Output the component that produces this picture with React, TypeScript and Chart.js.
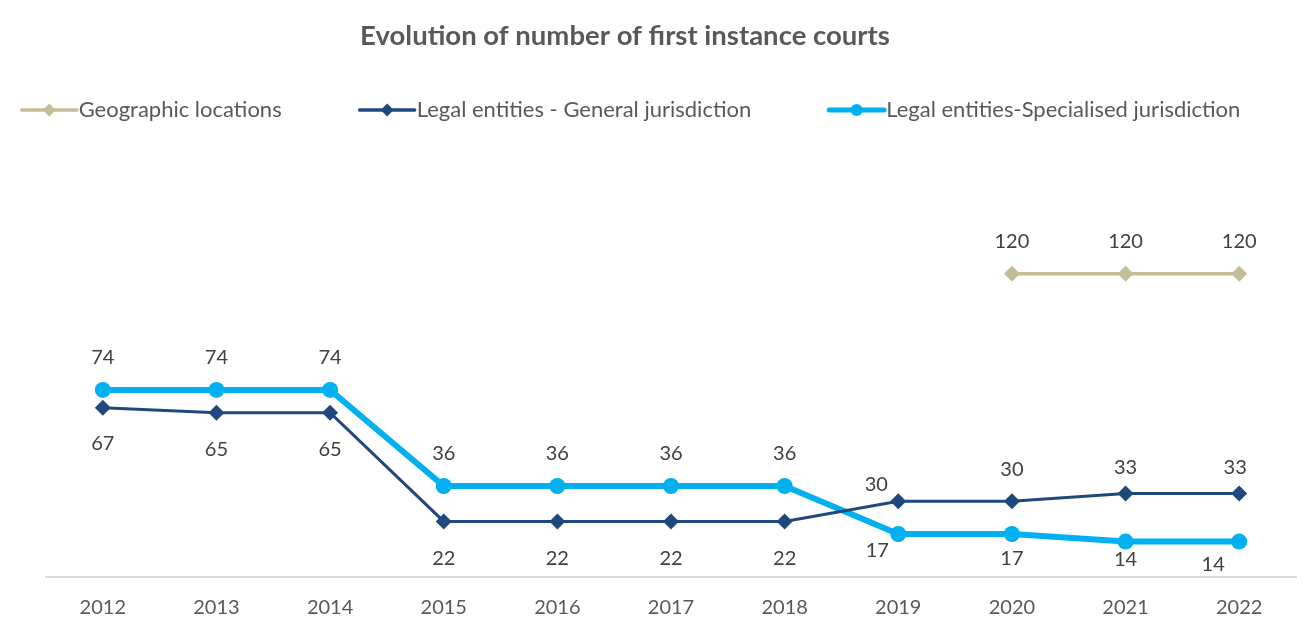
import React, { useEffect, useRef } from "react";
import { Chart, registerables } from "chart.js";

Chart.register(...registerables);

// ---- data ----
const years = ["2012", "2013", "2014", "2015", "2016", "2017", "2018", "2019", "2020", "2021", "2022"];
const geographicLocations = [null, null, null, null, null, null, null, null, 120, 120, 120];
const generalJurisdiction = [67, 65, 65, 22, 22, 22, 22, 30, 30, 33, 33];
const specialisedJurisdiction = [74, 74, 74, 36, 36, 36, 36, 17, 17, 14, 14];
const seriesNames = [
  "Geographic locations",
  "Legal entities - General jurisdiction",
  "Legal entities-Specialised jurisdiction",
];
const titleText = "Evolution of number of first instance courts";

// ---- styles ----
const FONT = "Lato, 'Open Sans', sans-serif";
const TEXT_COLOR = "#595959";
const LABEL_COLOR = "#404040";
const colors = ["#C4BD97", "#1F497D", "#00B0F0"];
const lineWidths = [3.5, 3, 6];
const markerStyles = ["rectRot", "rectRot", "circle"];
const markerRadii = [8, 8, 8];

// value-label offsets (dx, dy) per point, per series
const geoLabelDx = [0, 0, 0, 0, 0, 0, 0, 0, 0, 0, 0];
const geoLabelDy = [-32, -32, -32, -32, -32, -32, -32, -32, -32, -32, -32];
const genLabelDx = [0, 0, 0, 0, 0, 0, 0, -22, 0, 0, -4];
const genLabelDy = [36, 37, 37, 37, 37, 37, 37, -17, -32, -26, -26];
const specLabelDx = [0, 0, 0, 0, 0, 0, 0, -21, 0, 0, -26];
const specLabelDy = [-32, -32, -32, -32, -32, -32, -32, 17, 25, 18, 23];
const labelDx = [geoLabelDx, genLabelDx, specLabelDx];
const labelDy = [geoLabelDy, genLabelDy, specLabelDy];

const valueLabelPlugin = {
  id: "valueLabels",
  afterDatasetsDraw(chart: any) {
    const ctx = chart.ctx;
    ctx.save();
    ctx.font = `20px ${FONT}`;
    ctx.fillStyle = LABEL_COLOR;
    ctx.textAlign = "center";
    ctx.textBaseline = "middle";
    chart.data.datasets.forEach((ds: any, i: number) => {
      const meta = chart.getDatasetMeta(i);
      meta.data.forEach((pt: any, j: number) => {
        const v = ds.data[j];
        if (v === null || v === undefined) return;
        ctx.fillText(String(v), pt.x + labelDx[i][j], pt.y + labelDy[i][j]);
      });
    });
    ctx.restore();
  },
};

function drawMarker(ctx: CanvasRenderingContext2D, style: string, x: number, y: number, r: number, color: string) {
  ctx.fillStyle = color;
  ctx.beginPath();
  if (style === "circle") {
    ctx.arc(x, y, r, 0, Math.PI * 2);
  } else {
    ctx.moveTo(x - r, y);
    ctx.lineTo(x, y - r);
    ctx.lineTo(x + r, y);
    ctx.lineTo(x, y + r);
    ctx.closePath();
  }
  ctx.fill();
}

const headerPlugin = {
  id: "header",
  afterDraw(chart: any) {
    const ctx: CanvasRenderingContext2D = chart.ctx;
    ctx.save();
    // title
    ctx.font = `bold 27.5px ${FONT}`;
    ctx.fillStyle = TEXT_COLOR;
    ctx.textAlign = "center";
    ctx.textBaseline = "middle";
    ctx.fillText(titleText, 625, 36);

    // legend
    ctx.font = `22px ${FONT}`;
    const symW = 59;
    const gap = 76;
    const widths = seriesNames.map((n) => ctx.measureText(n).width);
    const total = widths.reduce((a, b) => a + b + symW, 0) + gap * (seriesNames.length - 1);
    let x = 630 - total / 2;
    const y = 110;
    ctx.textAlign = "left";
    seriesNames.forEach((name, i) => {
      ctx.strokeStyle = colors[i];
      ctx.lineWidth = i === 2 ? 5 : 3.5;
      ctx.lineCap = "round";
      ctx.beginPath();
      ctx.moveTo(x + 2, y);
      ctx.lineTo(x + symW - 2, y);
      ctx.stroke();
      drawMarker(ctx, markerStyles[i], x + symW / 2, y, i === 2 ? 6 : 6.5, colors[i]);
      ctx.fillStyle = TEXT_COLOR;
      ctx.fillText(name, x + symW, y);
      x += symW + widths[i] + gap;
    });
    ctx.restore();
  },
};

export default function App() {
  const canvasRef = useRef<HTMLCanvasElement | null>(null);

  useEffect(() => {
    if (!canvasRef.current) return;
    document.body.style.margin = "0";
    const seriesData = [geographicLocations, generalJurisdiction, specialisedJurisdiction];
    const chart = new Chart(canvasRef.current, {
      type: "line",
      data: {
        labels: years,
        datasets: seriesData.map((d, i) => ({
          label: seriesNames[i],
          data: d,
          borderColor: colors[i],
          backgroundColor: colors[i],
          borderWidth: lineWidths[i],
          pointStyle: markerStyles[i],
          pointRadius: markerRadii[i],
          pointBackgroundColor: colors[i],
          pointBorderWidth: 0,
          tension: 0,
          fill: false,
          spanGaps: false,
        })) as any,
      },
      options: {
        animation: false,
        responsive: true,
        maintainAspectRatio: false,
        layout: { padding: { top: 122, left: 46, right: 18, bottom: 0 } },
        plugins: {
          legend: { display: false },
          title: { display: false },
          tooltip: { enabled: false },
        },
        scales: {
          x: {
            offset: true,
            grid: { display: false, drawTicks: false },
            border: { display: true, color: "#D9D9D9", width: 2 },
            ticks: { color: TEXT_COLOR, font: { family: FONT, size: 20 }, padding: 19, maxRotation: 0 },
            afterFit: (scale: any) => {
              scale.height = 41;
            },
          },
          y: {
            display: false,
            min: 0,
            max: 180,
          },
        },
      },
      plugins: [valueLabelPlugin, headerPlugin],
    });
    return () => chart.destroy();
  }, []);

  return (
    <div style={{ width: 1314, height: 618, position: "relative" }}>
      <canvas ref={canvasRef} />
    </div>
  );
}
